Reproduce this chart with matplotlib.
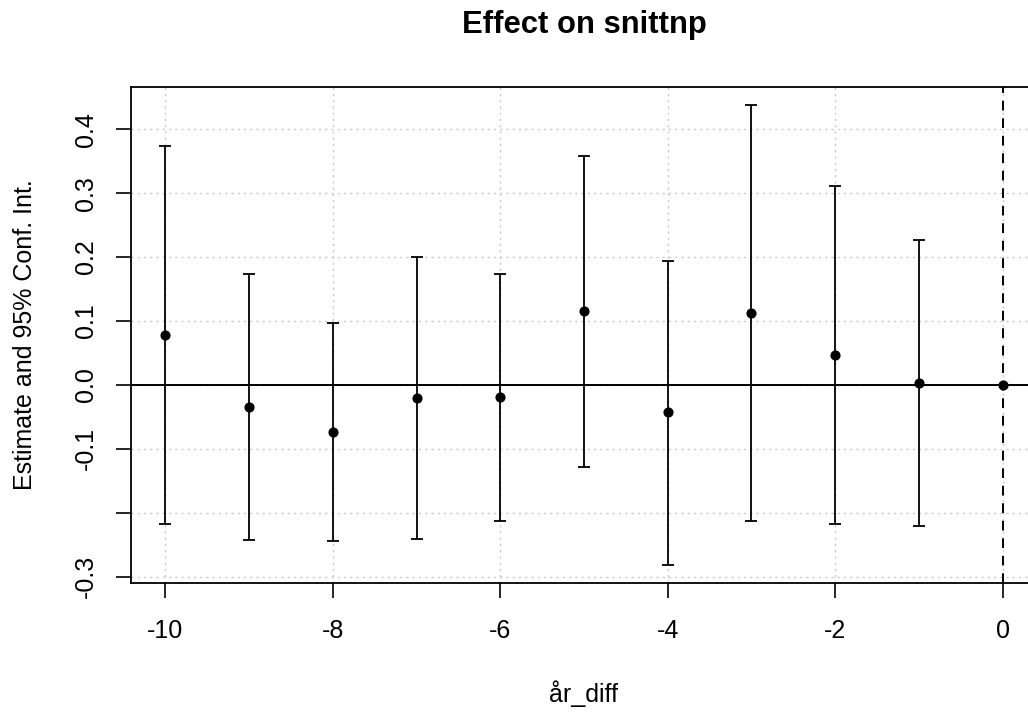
import matplotlib
matplotlib.use("Agg")
import matplotlib.pyplot as plt
from matplotlib.ticker import FixedLocator, FixedFormatter

plt.rcParams['font.family'] = ['Liberation Sans', 'DejaVu Sans']

# data
periods = [-10, -9, -8, -7, -6, -5, -4, -3, -2, -1, 0]
estimate = [0.078, -0.035, -0.073, -0.021, -0.019, 0.115, -0.043, 0.113, 0.047, 0.003, 0.0]
ci_low = [-0.217, -0.242, -0.244, -0.241, -0.213, -0.128, -0.282, -0.213, -0.218, -0.221, None]
ci_high = [0.373, 0.174, 0.097, 0.200, 0.174, 0.358, 0.194, 0.438, 0.311, 0.226, None]
yticks = [-0.3, -0.2, -0.1, 0.0, 0.1, 0.2, 0.3, 0.4]
ytick_labels = ['-0.3', '', '-0.1', '0.0', '0.1', '0.2', '0.3', '0.4']
xticks = [-10, -8, -6, -4, -2, 0]
xtick_labels = ['-10', '-8', '-6', '-4', '-2', '0']

W, H = 1028, 713
fig = plt.figure(figsize=(W / 100, H / 100), dpi=100)
left_px, right_px, top_px, bottom_px = 131, 1037, 87, 583
ax = fig.add_axes([left_px / W, 1 - bottom_px / H, (right_px - left_px) / W, (bottom_px - top_px) / H])

ax.set_xlim(-10.41, 0.41)
ax.set_ylim(-0.310, 0.466)

# grid
for x in xticks:
    ax.axvline(x, color='#c8c8c8', lw=1.0, ls=(0, (1.5, 3)), zorder=0)
for y in yticks:
    ax.axhline(y, color='#c8c8c8', lw=1.0, ls=(0, (1.5, 3)), zorder=0)

ax.axhline(0, color='black', lw=1.4, zorder=1)
ax.axvline(0, color='black', lw=1.4, ls=(0, (5, 4)), zorder=1)

# error bars
for p, e, lo, hi in zip(periods, estimate, ci_low, ci_high):
    if lo is not None:
        ax.errorbar([p], [e], yerr=[[e - lo], [hi - e]], fmt='none', ecolor='black',
                    elinewidth=1.3, capsize=4.5, capthick=1.3, zorder=2)
ax.plot(periods, estimate, 'o', color='black', markersize=6.3, zorder=3)

ax.xaxis.set_major_locator(FixedLocator(xticks))
ax.xaxis.set_major_formatter(FixedFormatter(xtick_labels))
ax.yaxis.set_major_locator(FixedLocator(yticks))
ax.yaxis.set_major_formatter(FixedFormatter(ytick_labels))

ax.tick_params(axis='both', direction='out', length=11, width=1.2, labelsize=18, color='black')
ax.tick_params(axis='x', pad=15)
ax.tick_params(axis='y', pad=13)
for lab in ax.get_yticklabels():
    lab.set_rotation(90)
    lab.set_va('center')

for s in ['left', 'bottom', 'top', 'right']:
    ax.spines[s].set_linewidth(1.3)
    ax.spines[s].set_color('black')

fig.text(584 / W, 1 - 25 / H, 'Effect on snittnp', ha='center', va='center',
         fontsize=22.3, fontweight='bold')
fig.text(584 / W, 1 - 694 / H, 'år_diff', ha='center', va='center', fontsize=18)
fig.text(25 / W, 1 - 335 / H, 'Estimate and 95% Conf. Int.', ha='center', va='center',
         fontsize=18, rotation=90)

fig.savefig('out.png', dpi=100)
